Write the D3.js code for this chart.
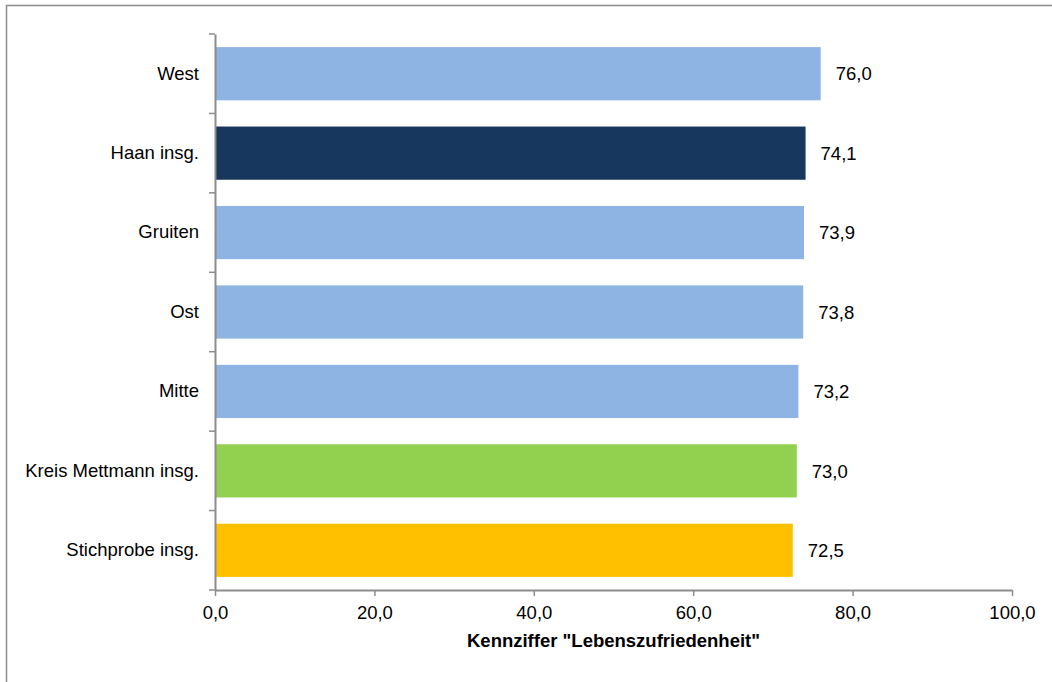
<!DOCTYPE html>
<html>
<head>
<meta charset="utf-8">
<script src="https://cdn.jsdelivr.net/npm/d3@7"></script>
<style>
  html, body { margin: 0; padding: 0; background: #fff; }
  svg { display: block; font-family: "Liberation Sans", Arial, sans-serif; }
</style>
</head>
<body>
<svg id="chart" width="1052" height="682"></svg>
<script>
// Lebenszufriedenheit nach Gebiet
const categories = ["West", "Haan insg.", "Gruiten", "Ost", "Mitte", "Kreis Mettmann insg.", "Stichprobe insg."];
const values = [76.0, 74.1, 73.9, 73.8, 73.2, 73.0, 72.5];
const barColors = ["#8EB4E3", "#17375E", "#8EB4E3", "#8EB4E3", "#8EB4E3", "#92D050", "#FFC000"];
const xTicks = [0, 20, 40, 60, 80, 100];
const xTitle = "Kennziffer \"Lebenszufriedenheit\"";

const svg = d3.select("#chart");
const W = 1052, H = 682;
const plot = { left: 215, right: 1012, top: 34, bottom: 590 };
const fontSize = 18.5;
const axisColor = "#8c8c8c";
const fmt = v => v.toFixed(1).replace(".", ",");

// outer frame of the chart area
svg.append("rect")
  .attr("x", 6.5).attr("y", 5.5)
  .attr("width", W + 10).attr("height", H + 10)
  .attr("fill", "#fff").attr("stroke", "#8c8c8c").attr("stroke-width", 1.5);

const x = d3.scaleLinear().domain([0, 100]).range([plot.left, plot.right]);
const band = d3.scaleBand().domain(categories).range([plot.top, plot.bottom]);
const y = d3.scaleBand().domain(categories).range([plot.top, plot.bottom])
  .paddingInner(0.33).paddingOuter(0.165);

// bars
svg.append("g").selectAll("rect")
  .data(categories)
  .join("rect")
  .attr("x", x(0))
  .attr("y", d => y(d))
  .attr("width", (d, i) => x(values[i]) - x(0))
  .attr("height", y.bandwidth())
  .attr("fill", (d, i) => barColors[i]);

// value labels
svg.append("g").selectAll("text")
  .data(categories)
  .join("text")
  .attr("x", (d, i) => x(values[i]) + 15)
  .attr("y", d => y(d) + y.bandwidth() / 2)
  .attr("dy", "0.36em")
  .attr("font-size", fontSize)
  .attr("fill", "#000")
  .text((d, i) => fmt(values[i]));

// x axis
const xAxis = svg.append("g")
  .attr("transform", `translate(0,${plot.bottom})`)
  .call(d3.axisBottom(x).tickValues(xTicks).tickFormat(fmt).tickSize(6).tickSizeOuter(0));
xAxis.select(".domain").attr("stroke", axisColor).attr("stroke-width", 2);
xAxis.selectAll(".tick line").attr("stroke", axisColor).attr("stroke-width", 1.5);
xAxis.selectAll(".tick text")
  .attr("font-size", fontSize).attr("font-family", "Liberation Sans, Arial, sans-serif")
  .attr("fill", "#000").attr("y", 16).attr("dy", "0.71em");

// y axis: labels centred on each band, tick marks on band boundaries
const yAxis = svg.append("g")
  .attr("transform", `translate(${plot.left},0)`)
  .call(d3.axisLeft(band).tickSize(0).tickPadding(16));
yAxis.select(".domain").attr("stroke", axisColor).attr("stroke-width", 2);
yAxis.selectAll(".tick text")
  .attr("font-size", fontSize).attr("font-family", "Liberation Sans, Arial, sans-serif")
  .attr("fill", "#000");

const boundaries = categories.map(d => band(d)).concat([band(categories[categories.length - 1]) + band.step()]);
svg.append("g").selectAll("line")
  .data(boundaries)
  .join("line")
  .attr("x1", plot.left - 6).attr("x2", plot.left)
  .attr("y1", d => d).attr("y2", d => d)
  .attr("stroke", axisColor).attr("stroke-width", 1.5);

// axis title
svg.append("text")
  .attr("x", (plot.left + plot.right) / 2 + 0)
  .attr("y", 647)
  .attr("text-anchor", "middle")
  .attr("font-size", fontSize)
  .attr("font-weight", "bold")
  .attr("fill", "#000")
  .text(xTitle);
</script>
</body>
</html>
